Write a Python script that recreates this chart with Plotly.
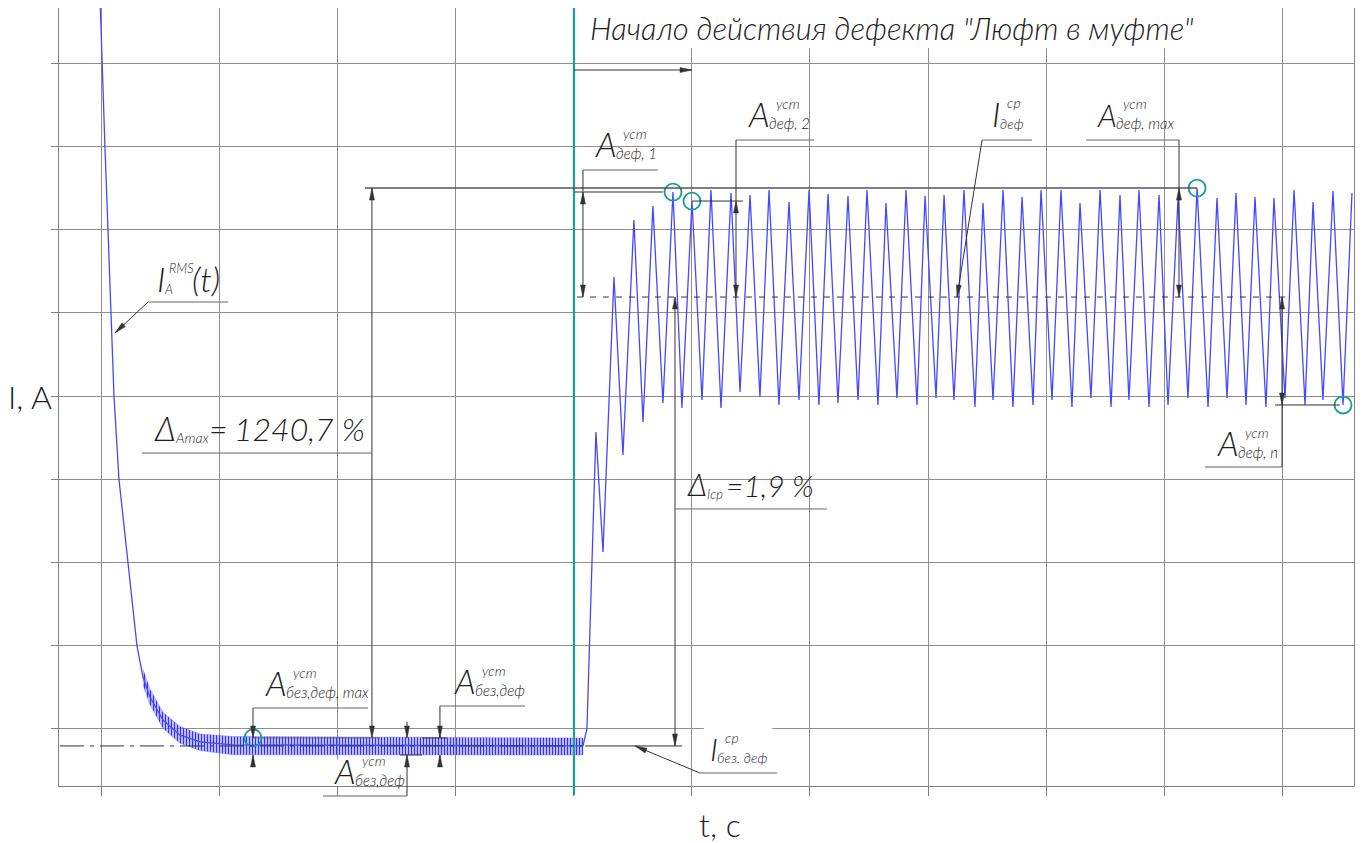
import numpy as np
import plotly.graph_objects as go

# ---------------- data (t and I in grid divisions) ----------------
# start-up transient of I_A^RMS(t) (centre line)
t_start = [-0.017, 0.0, 0.025, 0.051, 0.076, 0.102, 0.144, 0.220, 0.297, 0.347,
           0.407, 0.517, 0.661, 0.831, 1.110, 4.076]
i_start = [8.817, 8.0, 7.003, 6.006, 4.997, 4.000, 3.003, 1.994, 0.997, 0.625,
           0.384, 0.108, -0.072, -0.156, -0.192, -0.204]

# envelope of the fast ripple before the defect
t_ripple = [0.347, 0.407, 0.517, 0.661, 0.831, 1.110, 4.076]
i_ripple_hi = [0.72, 0.48, 0.20, 0.03, -0.06, -0.09, -0.108]
i_ripple_lo = [0.53, 0.29, 0.01, -0.17, -0.26, -0.31, -0.312]

# current after the defect ("Люфт в муфте") starts
t_def = [4.076, 4.110, 4.186, 4.246, 4.339, 4.415, 4.508, 4.585, 4.669, 4.754, 4.839, 4.915,
         5.000, 5.085, 5.161, 5.246, 5.331, 5.407, 5.492, 5.576, 5.653, 5.737, 5.822, 5.907, 5.992,
         6.076, 6.153, 6.237, 6.322, 6.407, 6.483, 6.576, 6.644, 6.737, 6.814, 6.907, 6.975,
         7.068, 7.136, 7.220, 7.305, 7.398, 7.466, 7.551, 7.636, 7.720, 7.797, 7.890, 7.958,
         8.051, 8.127, 8.220, 8.288, 8.381, 8.458, 8.551, 8.627, 8.703, 8.788, 8.873, 8.958,
         9.034, 9.119, 9.203, 9.280, 9.373, 9.449, 9.534, 9.610, 9.695, 9.771, 9.864, 9.932,
         10.025, 10.102, 10.195, 10.263, 10.347, 10.432, 10.517, 10.593]
i_def = [-0.204, 0.000, 3.568, 2.126, 5.429, 3.291, 6.114, 3.688, 6.282, 3.916, 6.450, 3.856,
         6.342, 3.952, 6.474, 3.856, 6.438, 4.048, 6.414, 3.988, 6.474, 3.892, 6.330, 3.952, 6.474,
         3.892, 6.426, 3.916, 6.402, 3.952, 6.474, 3.892, 6.318, 3.976, 6.474, 3.892, 6.402,
         3.976, 6.414, 3.952, 6.474, 3.868, 6.318, 3.952, 6.474, 3.868, 6.390, 3.892, 6.474,
         3.952, 6.474, 3.868, 6.318, 3.976, 6.474, 3.868, 6.414, 3.952, 6.474, 3.868, 6.414,
         3.892, 6.378, 3.976, 6.498, 3.868, 6.378, 3.976, 6.438, 3.892, 6.390, 3.868, 6.378,
         3.976, 6.474, 3.892, 6.330, 3.952, 6.462, 3.892, 6.438]

t_onset = 4.0
title_text = 'Начало действия дефекта "Люфт в муфте"'
delta_amax_value = "1240,7 %"
delta_icp_value = "=1,9 %"

# ---------------- derived levels ----------------
ia = np.array(i_def)
ta = np.array(t_def)
i_max = float(ia.max())
k_max = int(ia.argmax())
i_mean_def = float(ia[ta >= 4.8].mean())
i_mean_nodef = i_start[-1]
k_p1, k_p2 = 10, 12
k_n = len(i_def) - 2
band_hi, band_lo = i_ripple_hi[-1], i_ripple_lo[-1]

# ---------------- layout geometry ----------------
# (the page body adds an 8 px offset, compensated in the margins)
W, H = 1366, 843
ML, MR, MT, MB = 51, 20, 0, 65
PW, PH = W - ML - MR, H - MT - MB
X0, X1 = -0.364, 10.610
Y0, Y1 = -0.685, 8.661
PX_T = PW / (X1 - X0)
PX_I = PH / (Y1 - Y0)

BLUE = "#4747ff"
TEAL = "#1a9e96"
DIM = "#333333"
INK = "#1e1e1e"
FONT = "Lato, Roboto, Liberation Sans, sans-serif"
WEIGHT = 300


def px(t):
    return (t - X0) / (X1 - X0)


def py(i):
    return (i - Y0) / (Y1 - Y0)


shapes, ann = [], []


def seg(t0, i0, t1, i1, color=DIM, width=1, dash=None):
    shapes.append(dict(type="line", xref="paper", yref="paper",
                       x0=px(t0), y0=py(i0), x1=px(t1), y1=py(i1),
                       line=dict(color=color, width=width, dash=dash)))


ALEN, AW = 12, 5


def head(tt, it, tf, if_):
    dx = (tt - tf) * PX_T
    dy = (it - if_) * PX_I
    L = float(np.hypot(dx, dy))
    ux, uy = dx / L, dy / L
    bx, by = -ux * ALEN, -uy * ALEN
    nx, ny = -uy * AW / 2, ux * AW / 2
    X, Y = px(tt), py(it)
    p1 = (X + (bx + nx) / PW, Y + (by + ny) / PH)
    p2 = (X + (bx - nx) / PW, Y + (by - ny) / PH)
    shapes.append(dict(type="path", xref="paper", yref="paper",
                       path=f"M{X},{Y} L{p1[0]},{p1[1]} L{p2[0]},{p2[1]} Z",
                       fillcolor=DIM, line=dict(color=DIM, width=0.5)))


def arrow(t0, i0, t1, i1):
    seg(t0, i0, t1, i1)
    head(t1, i1, t0, i0)


def dim(t, ia_, ib_):
    seg(t, ia_, t, ib_)
    head(t, ia_, t, ib_)
    head(t, ib_, t, ia_)


def txt(t, i, s, size, dx=0, dy=0, italic=True, xanchor="left", yanchor="bottom"):
    ann.append(dict(xref="paper", yref="paper", x=px(t), y=py(i), text=s, showarrow=False,
                    xanchor=xanchor, yanchor=yanchor, xshift=dx, yshift=dy,
                    font=dict(family=FONT, size=size, color=INK, weight=WEIGHT,
                              style="italic" if italic else "normal")))


def stacked(t, i, base, sub, sup, size=34, sub_dx=21, sup_dx=28, sub_size=15, sup_size=14):
    txt(t, i, base, size, 0, -8)
    txt(t, i, sub, sub_size, sub_dx, -6)
    txt(t, i, sup, sup_size, sup_dx, 14)


def mask(t0, t1, i0, i1):
    shapes.append(dict(type="rect", xref="x", yref="y", x0=t0, x1=t1, y0=i0, y1=i1,
                       fillcolor="white", line=dict(width=0), layer="between"))


# masks behind texts
mask(4.093, 9.263, 8.18, 8.75)
mask(5.10, 5.68, -0.45, 0.12)
mask(1.93, 2.50, -0.685, -0.37)

# onset line and arrow
shapes.append(dict(type="line", xref="x", yref="paper", x0=t_onset, x1=t_onset, y0=-0.012, y1=1,
                   line=dict(color=TEAL, width=2.2)))
arrow(t_onset, 7.916, 5.0, 7.916)

# max level line and Δ_Amax dimension
seg(2.229, i_max, t_def[k_max], i_max, color="#555555", width=1.4)
dim(2.288, i_max, band_hi)
seg(0.339, 3.315, 2.288, 3.315, color="#666666")
seg(1.280, band_hi, 2.356, band_hi, color="#666666")

# A_без.деф,max
seg(1.280, 0.252, 2.254, 0.252, color="#666666")
arrow(1.280, 0.252, 1.280, band_hi)
arrow(1.280, -0.432, 1.280, band_lo)
# A_без.деф (upper label)
seg(2.864, 0.276, 3.585, 0.276, color="#666666")
arrow(2.864, 0.276, 2.864, band_hi)
arrow(2.864, -0.456, 2.864, band_lo)
seg(2.712, band_hi, 2.924, band_hi)
# A_без.деф (lower label)
arrow(2.585, 0.084, 2.585, band_hi)
arrow(2.585, -0.805, 2.585, band_lo)
seg(1.873, -0.805, 2.585, -0.805, color="#666666")
seg(2.525, band_lo, 2.712, band_lo)

# mean level without defect
seg(-0.356, i_mean_nodef, t_def[0], i_mean_nodef, dash="24px,6px,4px,6px")

# mean level with defect
seg(4.025, i_mean_def, 10.068, i_mean_def, dash="6px,7px")

# A_деф,1
seg(t_def[0], 6.715, 4.712, 6.715, color="#666666")
seg(t_def[0], 6.715, t_def[0], i_def[k_p1])
seg(t_onset, i_def[k_p1], 4.754, i_def[k_p1], color="#777777", width=1.4)
dim(t_def[0], i_def[k_p1], i_mean_def)
# A_деф,2
seg(5.373, 7.075, 6.034, 7.075, color="#666666")
seg(5.373, 7.075, 5.373, i_def[k_p2])
seg(t_def[k_p2], i_def[k_p2], 5.432, i_def[k_p2])
dim(5.373, i_def[k_p2], i_mean_def)
# I_деф^ср
seg(7.458, 7.075, 7.881, 7.075, color="#666666")
arrow(7.458, 7.075, 7.246, i_mean_def)
# A_деф,max
seg(8.339, 7.075, 9.127, 7.075, color="#666666")
seg(9.127, 7.075, 9.127, i_max)
dim(9.127, i_max, i_mean_def)
# A_деф,n
dim(10.0, i_mean_def, i_def[k_n])
seg(10.0, i_def[k_n], 10.0, 3.147)
seg(9.347, 3.147, 10.0, 3.147, color="#666666")
seg(9.941, i_def[k_n], 10.492, i_def[k_n])
# Δ_Iср
dim(4.856, i_mean_def, i_mean_nodef)
seg(4.856, 2.643, 6.144, 2.643, color="#666666")
seg(4.093, i_mean_nodef, 4.915, i_mean_nodef)
# I_без.деф^ср leader
seg(5.068, -0.529, 5.720, -0.529, color="#666666")
arrow(5.068, -0.529, 4.517, i_mean_nodef)
# I_A^RMS(t) leader
seg(0.390, 5.129, 1.068, 5.129, color="#666666")
arrow(0.390, 5.129, 0.110, 4.757)

# ---------------- texts ----------------
ann.append(dict(xref="paper", yref="paper", x=px(6.695), y=py(8.42), text=title_text,
                showarrow=False, xanchor="center", yanchor="middle",
                font=dict(family=FONT, size=31, color=INK, weight=WEIGHT, style="italic")))

# I_A^RMS(t)
txt(0.449, 5.237, "I", 34, 0, -8)
txt(0.449, 5.237, "A", 13, 7, -6)
txt(0.449, 5.237, "RMS", 13, 12, 15)
txt(0.449, 5.237, "(t)", 34, 35, -8)

# Δ_Amax = 1240,7 %
txt(0.424, 3.447, "Δ", 34, 0, -8)
txt(0.424, 3.447, "Amax", 14, 21, -6)
txt(0.424, 3.447, "=", 32, 55, -8)
txt(0.424, 3.447, delta_amax_value, 32, 80, -8)

# Δ_Iср = 1,9 %
txt(4.941, 2.775, "Δ", 31, 0, -7)
txt(4.941, 2.775, "Iср", 13, 20, -6)
txt(4.941, 2.775, delta_icp_value, 30, 39, -7)

stacked(4.161, 6.859, "A", "деф, 1", "уст")
stacked(5.458, 7.219, "A", "деф, 2", "уст")
stacked(8.415, 7.219, "A", "деф, max", "уст", size=31, sub_dx=19, sup_dx=26)
stacked(9.432, 3.267, "A", "деф, n", "уст")
stacked(1.364, 0.384, "A", "без,деф, max", "уст")
stacked(2.966, 0.408, "A", "без,деф", "уст")
stacked(1.949, -0.673, "A", "без,деф", "уст")

txt(7.525, 7.219, "I", 34, 0, -8)
txt(7.525, 7.219, "деф", 14, 8, -6)
txt(7.525, 7.219, "ср", 14, 15, 15)

txt(5.136, -0.396, "I", 32, 0, -8)
txt(5.136, -0.396, "без. деф", 14, 7, -6)
txt(5.136, -0.396, "ср", 14, 15, 14)

# axis titles
ann.append(dict(xref="paper", yref="paper", x=px(-0.61), y=py(4.0), text="I, A",
                showarrow=False, xanchor="center", yanchor="middle",
                font=dict(family=FONT, size=32, color=INK, weight=WEIGHT)))
ann.append(dict(xref="paper", yref="paper", x=px(5.237), y=py(-1.153), text="t, c",
                showarrow=False, xanchor="center", yanchor="middle",
                font=dict(family=FONT, size=32, color=INK, weight=WEIGHT)))

# ---------------- traces ----------------
fig = go.Figure()
fig.add_trace(go.Scatter(
    x=t_ripple + t_ripple[::-1], y=i_ripple_hi + i_ripple_lo[::-1],
    fill="toself", mode="lines", line=dict(color="rgba(70,70,255,0.5)", width=0.6),
    fillcolor="rgba(160,160,255,0.45)",
    fillpattern=dict(shape="|", size=3, solidity=0.45, fgcolor="#3030ff",
                     bgcolor="rgba(165,165,255,0.45)", fillmode="replace"),
    hoverinfo="skip", showlegend=False))
fig.add_trace(go.Scatter(x=t_start, y=i_start, mode="lines",
                         line=dict(color=BLUE, width=1.3), showlegend=False))
fig.add_trace(go.Scatter(x=t_def, y=i_def, mode="lines",
                         line=dict(color=BLUE, width=1.3), showlegend=False))
fig.add_trace(go.Scatter(
    x=[t_def[k_p1], t_def[k_p2], t_def[k_max], t_def[k_n], 1.280],
    y=[i_def[k_p1], i_def[k_p2], i_max, i_def[k_n], band_hi],
    mode="markers", marker=dict(symbol="circle-open", size=17, color=TEAL,
                                line=dict(width=1.8, color=TEAL)),
    showlegend=False))

axis_common = dict(showgrid=True, gridcolor="#8f8f8f", gridwidth=1, zeroline=False,
                   showline=True, linecolor="#808080", linewidth=1, mirror=True,
                   ticks="outside", tickcolor="#808080", showticklabels=False,
                   tick0=0, dtick=1)
fig.update_layout(
    width=W, height=H, margin=dict(l=ML, r=MR, t=MT, b=MB),
    paper_bgcolor="white", plot_bgcolor="white",
    xaxis=dict(range=[X0, X1], ticklen=9, **axis_common),
    yaxis=dict(range=[Y0, Y1], ticklen=7, **axis_common),
    shapes=shapes, annotations=ann, showlegend=False,
)
fig.write_html("out.html")
